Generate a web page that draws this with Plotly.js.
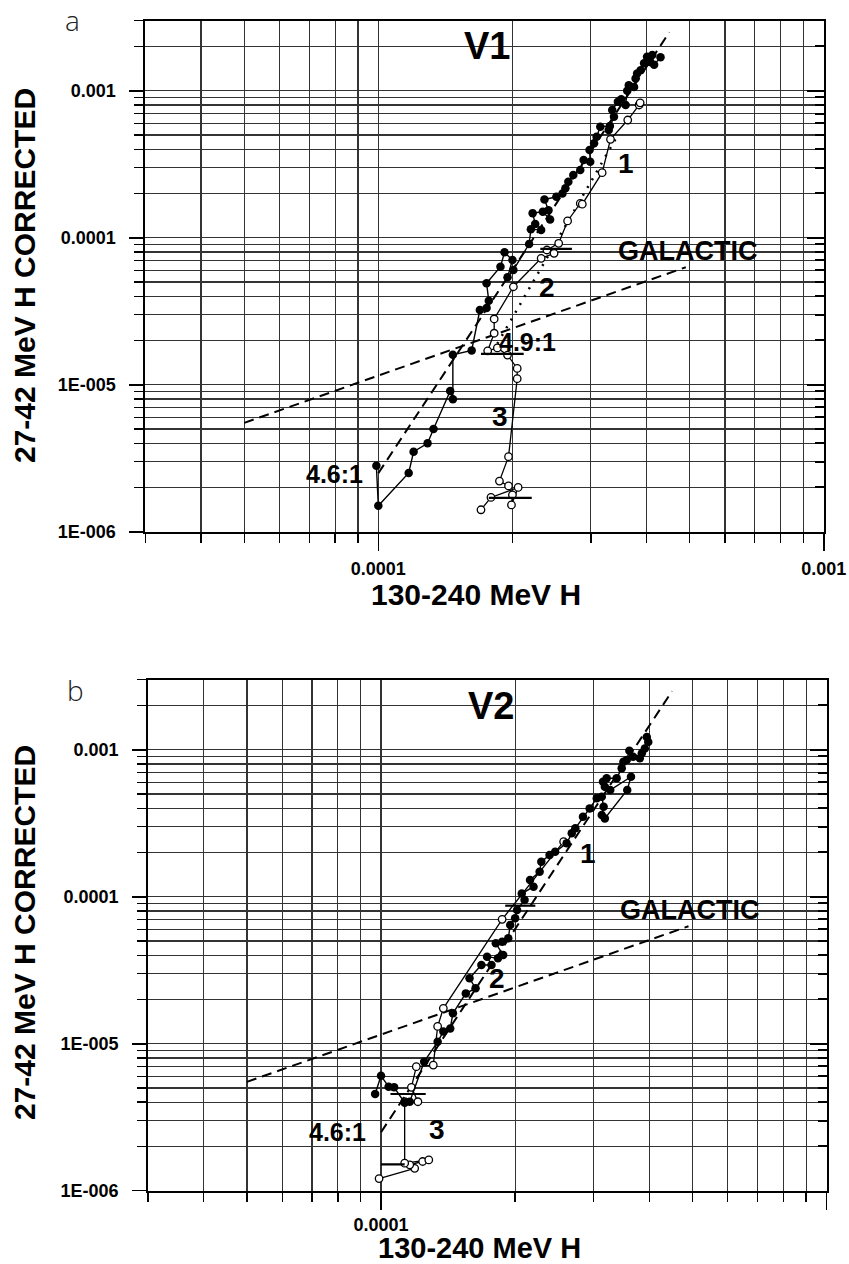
<!DOCTYPE html>
<html>
<head>
<meta charset="utf-8">
<script src="https://cdn.plot.ly/plotly-3.0.1.min.js"></script>
<style>html,body{margin:0;padding:0;background:#fff}#chart{width:849px;height:1264px}</style>
</head>
<body>
<div id="chart"></div>
<script>
// ---------------- data ----------------
// Panel a (V1): filled-circle series
const aFilledX = [9.9e-5, 1.0e-4, 1.17e-4, 1.20e-4, 1.29e-4, 1.33e-4, 1.45e-4, 1.47e-4, 1.47e-4, 1.62e-4, 1.69e-4, 1.75e-4, 1.77e-4, 1.75e-4, 1.88e-4, 1.92e-4, 2.00e-4, 1.95e-4, 2.01e-4, 2.18e-4, 2.20e-4, 2.32e-4, 2.25e-4, 2.22e-4, 2.34e-4, 2.43e-4, 2.41e-4, 2.36e-4, 2.51e-4, 2.59e-4, 2.63e-4, 2.67e-4, 2.74e-4, 2.84e-4, 2.89e-4, 2.99e-4, 2.98e-4, 3.05e-4, 3.09e-4, 3.15e-4, 3.31e-4, 3.29e-4, 3.38e-4, 3.35e-4, 3.45e-4, 3.51e-4, 3.59e-4, 3.62e-4, 3.65e-4, 3.75e-4, 3.78e-4, 3.81e-4, 3.88e-4, 3.95e-4, 4.07e-4, 4.01e-4, 4.12e-4, 4.16e-4, 4.30e-4];
const aFilledY = [2.81e-6, 1.50e-6, 2.51e-6, 3.50e-6, 3.99e-6, 5.0e-6, 9.06e-6, 7.96e-6, 1.60e-5, 1.71e-5, 3.22e-5, 3.33e-5, 3.72e-5, 4.90e-5, 6.35e-5, 7.96e-5, 7.05e-5, 5.38e-5, 6.03e-5, 9.06e-5, 1.14e-4, 1.13e-4, 1.24e-4, 1.47e-4, 1.50e-4, 1.33e-4, 1.54e-4, 1.82e-4, 1.90e-4, 2.00e-4, 2.17e-4, 2.40e-4, 2.67e-4, 2.89e-4, 3.38e-4, 3.29e-4, 3.95e-4, 4.39e-4, 4.86e-4, 5.69e-4, 5.75e-4, 5.41e-4, 6.65e-4, 7.39e-4, 8.42e-4, 8.74e-4, 8.0e-4, 1.0e-3, 1.09e-3, 1.06e-3, 1.21e-3, 1.31e-3, 1.38e-3, 1.54e-3, 1.57e-3, 1.70e-3, 1.75e-3, 1.50e-3, 1.69e-3];
// Panel a: open-circle series
const aOpenX = [1.70e-4, 1.79e-4, 2.06e-4, 1.99e-4, 2.00e-4, 1.96e-4, 1.87e-4, 1.96e-4, 2.05e-4, 2.05e-4, 1.95e-4, 1.85e-4, 1.76e-4, 1.82e-4, 1.82e-4, 2.01e-4, 2.32e-4, 2.48e-4, 2.39e-4, 2.54e-4, 2.66e-4, 2.84e-4, 2.87e-4, 3.18e-4, 3.32e-4, 3.63e-4, 3.85e-4, 3.87e-4];
const aOpenY = [1.41e-6, 1.71e-6, 2.0e-6, 1.52e-6, 1.78e-6, 2.05e-6, 2.21e-6, 3.24e-6, 1.10e-5, 1.29e-5, 1.59e-5, 1.78e-5, 1.70e-5, 2.24e-5, 2.80e-5, 4.64e-5, 7.24e-5, 7.83e-5, 8.25e-5, 9.16e-5, 1.30e-4, 1.71e-4, 1.69e-4, 2.77e-4, 4.67e-4, 6.32e-4, 8.0e-4, 8.28e-4];
// Panel a: horizontal bars
const aBarX = [2.31e-4, 2.72e-4, null, 1.70e-4, 2.12e-4, null, 1.77e-4, 2.21e-4];
const aBarY = [8.4e-5, 8.4e-5, null, 1.62e-5, 1.62e-5, null, 1.70e-6, 1.70e-6];

// Panel b (V2): filled-circle series
const bFilledX = [9.7e-5, 1.0e-4, 1.04e-4, 1.07e-4, 1.13e-4, 1.16e-4, 1.25e-4, 1.34e-4, 1.38e-4, 1.43e-4, 1.45e-4, 1.55e-4, 1.63e-4, 1.58e-4, 1.68e-4, 1.77e-4, 1.73e-4, 1.83e-4, 1.88e-4, 1.81e-4, 1.87e-4, 1.93e-4, 1.95e-4, 2.00e-4, 2.02e-4, 2.10e-4, 2.07e-4, 2.20e-4, 2.16e-4, 2.27e-4, 2.29e-4, 2.39e-4, 2.46e-4, 2.61e-4, 2.68e-4, 2.73e-4, 2.84e-4, 2.94e-4, 3.05e-4, 3.13e-4, 3.16e-4, 3.13e-4, 3.18e-4, 3.57e-4, 3.64e-4, 3.27e-4, 3.15e-4, 3.18e-4, 3.21e-4, 3.38e-4, 3.47e-4, 3.50e-4, 3.56e-4, 3.61e-4, 3.68e-4, 3.81e-4, 3.85e-4, 3.91e-4, 3.95e-4, 3.98e-4];
const bFilledY = [4.55e-6, 6.05e-6, 5.1e-6, 5.05e-6, 3.97e-6, 4.03e-6, 7.55e-6, 1.03e-5, 1.21e-5, 1.27e-5, 1.61e-5, 2.20e-5, 2.38e-5, 2.79e-5, 3.43e-5, 3.43e-5, 3.91e-5, 3.81e-5, 4.01e-5, 4.82e-5, 4.94e-5, 5.21e-5, 6.41e-5, 7.13e-5, 8.12e-5, 9.50e-5, 1.05e-4, 1.17e-4, 1.30e-4, 1.48e-4, 1.73e-4, 1.92e-4, 2.02e-4, 2.31e-4, 2.70e-4, 2.92e-4, 3.50e-4, 3.99e-4, 4.67e-4, 4.79e-4, 4.09e-4, 3.60e-4, 3.41e-4, 5.32e-4, 6.55e-4, 5.32e-4, 6.05e-4, 5.60e-4, 6.39e-4, 6.39e-4, 7.47e-4, 8.29e-4, 8.51e-4, 9.84e-4, 8.96e-4, 8.74e-4, 9.45e-4, 1.02e-3, 1.22e-3, 1.13e-3];
// Panel b: open-circle series
const bOpenX = [9.9e-5, 1.19e-4, 1.16e-4, 1.24e-4, 1.28e-4, 1.13e-4, 1.13e-4, 1.21e-4, 1.17e-4, 1.20e-4, 1.31e-4, 1.34e-4, 1.38e-4, 1.87e-4, 2.57e-4];
const bOpenY = [1.21e-6, 1.42e-6, 1.50e-6, 1.58e-6, 1.62e-6, 1.54e-6, 4.03e-6, 4.03e-6, 5.05e-6, 6.98e-6, 7.16e-6, 1.31e-5, 1.74e-5, 7.02e-5, 2.37e-4];
// Panel b: horizontal bars
const bBarX = [1.05e-4, 1.26e-4, null, 1.0e-4, 1.13e-4, null, 1.90e-4, 2.22e-4];
const bBarY = [4.55e-6, 4.55e-6, null, 1.51e-6, 1.51e-6, null, 8.69e-5, 8.69e-5];

// Reference lines
const ratio46X = [1.0e-4, 4.5e-4];
const ratio46Y = [2.5e-6, 2.5e-3];
const ratio49X = [1.85e-4, 3.45e-4];
const ratio49Y = [1.9e-5, 5.0e-4];
const galacticX = [5.0e-5, 4.9e-4];
const galacticY = [5.5e-6, 6.3e-5];

// Tick values / labels
const xMajor = [1e-4, 1e-3];
const xMajorText = ['0.0001', '0.001'];
const xMinor = [3e-5, 4e-5, 5e-5, 6e-5, 7e-5, 8e-5, 9e-5, 2e-4, 3e-4, 4e-4, 5e-4, 6e-4, 7e-4, 8e-4, 9e-4];
const yMajor = [1e-6, 1e-5, 1e-4, 1e-3];
const yMajorText = ['1E-006', '1E-005', '0.0001', '0.001'];
const yMinor = [2e-6, 3e-6, 4e-6, 5e-6, 6e-6, 7e-6, 8e-6, 9e-6, 2e-5, 3e-5, 4e-5, 5e-5, 6e-5, 7e-5, 8e-5, 9e-5, 2e-4, 3e-4, 4e-4, 5e-4, 6e-4, 7e-4, 8e-4, 9e-4, 2e-3, 3e-3];

// ---------------- layout helpers ----------------
const W = 849, H = 1264;
const F = 'Liberation Sans, Arial, Helvetica, sans-serif';
const XR = [Math.log10(3e-5), -3];
const YR = [-6, Math.log10(3e-3)];
const GRID = '#333333';

function xAxis(domain, anchor, standoff) {
  return {
    type: 'log', domain: domain, anchor: anchor, range: XR,
    tickmode: 'array', tickvals: xMajor, ticktext: xMajorText,
    ticks: 'outside', ticklen: 17, tickwidth: 1.6, tickcolor: '#000',
    showgrid: true, gridcolor: GRID, gridwidth: 1.2,
    showline: true, linecolor: '#000', linewidth: 2, mirror: true, zeroline: false,
    tickfont: {family: F, size: 18, weight: 'bold', color: '#000'},
    ticklabelstandoff: standoff,
    minor: {tickmode: 'array', tickvals: xMinor, ticks: 'outside', ticklen: 9, tickwidth: 1.4, tickcolor: '#000',
            showgrid: true, gridcolor: GRID, gridwidth: 1.2},
    fixedrange: true
  };
}
function yAxis(domain, anchor) {
  return {
    type: 'log', domain: domain, anchor: anchor, range: YR,
    tickmode: 'array', tickvals: yMajor, ticktext: yMajorText,
    ticks: 'outside', ticklen: 14, tickwidth: 1.6, tickcolor: '#000',
    showgrid: true, gridcolor: GRID, gridwidth: 1.2,
    showline: true, linecolor: '#000', linewidth: 2, mirror: true, zeroline: false,
    tickfont: {family: F, size: 18, weight: 'bold', color: '#000'},
    ticklabelstandoff: 10,
    minor: {tickmode: 'array', tickvals: yMinor, ticks: 'outside', ticklen: 9, tickwidth: 1.4, tickcolor: '#000',
            showgrid: true, gridcolor: GRID, gridwidth: 1.2},
    fixedrange: true
  };
}
function yRight(over, anchor) {
  return {
    type: 'log', overlaying: over, side: 'right', anchor: anchor, range: YR,
    tickmode: 'array', tickvals: yMajor, ticks: 'inside', ticklen: 17, tickwidth: 2.2, tickcolor: '#000',
    showticklabels: false, showgrid: false, showline: false, zeroline: false,
    minor: {tickmode: 'array', tickvals: yMinor, ticks: 'inside', ticklen: 9, tickwidth: 2, tickcolor: '#000', showgrid: false},
    fixedrange: true
  };
}

function panelTraces(xa, ya, filledX, filledY, openX, openY, barX, barY, withDotted) {
  const t = [];
  t.push({x: galacticX, y: galacticY, xaxis: xa, yaxis: ya, mode: 'lines',
          line: {color: '#000', width: 2, dash: '10px,6px'}, hoverinfo: 'skip'});
  t.push({x: ratio46X, y: ratio46Y, xaxis: xa, yaxis: ya, mode: 'lines',
          line: {color: '#000', width: 2, dash: '10px,6px'}, hoverinfo: 'skip'});
  if (withDotted) {
    t.push({x: ratio49X, y: ratio49Y, xaxis: xa, yaxis: ya, mode: 'lines',
            line: {color: '#000', width: 2.5, dash: '2px,7px'}, hoverinfo: 'skip'});
  }
  t.push({x: openX, y: openY, xaxis: xa, yaxis: ya, mode: 'lines+markers',
          line: {color: '#000', width: 1.3},
          marker: {symbol: 'circle', size: 7.5, color: '#fff', line: {color: '#000', width: 1.3}}});
  t.push({x: filledX, y: filledY, xaxis: xa, yaxis: ya, mode: 'lines+markers',
          line: {color: '#000', width: 1.4},
          marker: {symbol: 'circle', size: 8.5, color: '#000'}});
  t.push({x: barX, y: barY, xaxis: xa, yaxis: ya, mode: 'lines',
          line: {color: '#000', width: 2.2}, connectgaps: false, hoverinfo: 'skip'});
  return t;
}

const traces = []
  .concat(panelTraces('x', 'y', aFilledX, aFilledY, aOpenX, aOpenY, aBarX, aBarY, true))
  .concat(panelTraces('x2', 'y2', bFilledX, bFilledY, bOpenX, bOpenY, bBarX, bBarY, false));
traces.push({x: [], y: [], xaxis: 'x', yaxis: 'y3', mode: 'markers'});
traces.push({x: [], y: [], xaxis: 'x2', yaxis: 'y4', mode: 'markers'});

function lab(text, xp, yp, size, extra) {
  return Object.assign({
    text: text, xref: 'paper', yref: 'paper', x: xp / W, y: 1 - yp / H,
    xanchor: 'center', yanchor: 'middle', showarrow: false,
    font: {family: F, size: size, weight: 'bold', color: '#000'}
  }, extra || {});
}
const letterFont = {family: 'Open Sans, Noto Sans, sans-serif', size: 28, weight: 300, color: '#222'};

const annotations = [
  // panel a
  lab('a', 72, 20, 28, {font: letterFont}),
  lab('V1', 487, 46, 38),
  lab('1', 626, 163, 28),
  lab('2', 547, 287, 28),
  lab('GALACTIC', 687, 251, 27),
  lab('4.9:1', 527, 342, 25),
  lab('3', 500, 416, 28),
  lab('4.6:1', 334, 474, 25),
  lab('27-42 MeV H CORRECTED', 24, 276, 30, {textangle: -90}),
  lab('130-240 MeV H', 476, 594, 30),
  // panel b
  lab('b', 75, 690, 28, {font: letterFont}),
  lab('V2', 491, 706, 38),
  lab('1', 588, 853, 28),
  lab('GALACTIC', 689, 910, 27),
  lab('2', 497, 978, 28),
  lab('3', 437, 1129, 28),
  lab('4.6:1', 337, 1132, 25),
  lab('27-42 MeV H CORRECTED', 24, 933, 30, {textangle: -90}),
  lab('130-240 MeV H', 479, 1248, 29)
];

const layout = {
  width: W, height: H, autosize: false,
  margin: {l: 0, r: 0, t: 0, b: 0, pad: 0},
  paper_bgcolor: '#fff', plot_bgcolor: '#fff',
  showlegend: false,
  xaxis: xAxis([145.4 / W, 823.8 / W], 'y', 3),
  yaxis: yAxis([1 - 531.7 / H, 1 - 20.6 / H], 'x'),
  xaxis2: xAxis([148.1 / W, 826.5 / W], 'y2', 0),
  yaxis2: yAxis([1 - 1190.7 / H, 1 - 679.6 / H], 'x2'),
  yaxis3: yRight('y', 'x'),
  yaxis4: yRight('y2', 'x2'),
  annotations: annotations
};

Plotly.newPlot('chart', traces, layout, {staticPlot: true, displayModeBar: false});
</script>
</body>
</html>
